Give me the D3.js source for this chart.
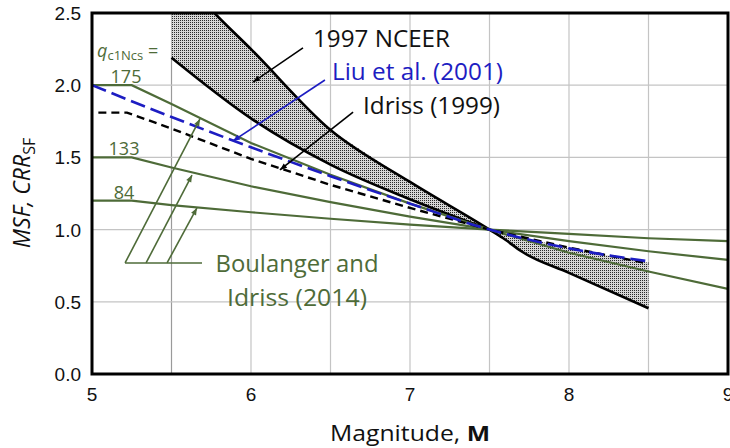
<!DOCTYPE html>
<html><head><meta charset="utf-8">
<script src="https://cdn.jsdelivr.net/npm/d3@7"></script>
<style>body{margin:0;background:#fff;} svg{display:block;}</style>
</head><body>
<svg id="chart" width="730" height="448"></svg>
<script>
// ---- data ----
const xTicks = [5, 6, 7, 8, 9];
const yTicks = [0.0, 0.5, 1.0, 1.5, 2.0, 2.5];
const xGrid = [5.5, 6, 6.5, 7, 7.5, 8, 8.5];
const yGrid = [0.5, 1.0, 1.5, 2.0];

// 1997 NCEER band: steep curve and shallow curve
const nceerSteep = [[5.5,2.83],[5.77,2.5],[6.0,2.25],[6.5,1.69],[7.0,1.33],[7.5,1.0],[7.6,0.93],[7.7,0.85],[8.0,0.70],[8.5,0.455]];
const nceerShallowLeft = [[5.5,2.19],[6.0,1.77],[6.5,1.45],[7.0,1.21],[7.5,1.0]];
const nceerShallowRight = [[7.5,1.0],[8.0,0.87],[8.5,0.77]];

const liu2001 = [[5.0,2.0],[5.5,1.78],[6.0,1.57],[6.5,1.37],[7.0,1.18],[7.5,1.0],[8.0,0.87],[8.5,0.78]];
const idriss1999 = [[5.04,1.81],[5.22,1.81],[5.5,1.70],[6.0,1.49],[6.5,1.31],[7.0,1.15],[7.5,1.0],[8.0,0.875],[8.5,0.765]];

const bi2014Labels = ["175", "133", "84"];
const bi175 = [[5.0,2.0],[5.25,2.0],[5.5,1.87],[6.0,1.60],[6.5,1.38],[7.0,1.18],[7.5,1.0],[8.0,0.84],[8.5,0.71],[9.0,0.59]];
const bi133 = [[5.0,1.5],[5.25,1.5],[5.5,1.43],[6.0,1.30],[6.5,1.19],[7.0,1.09],[7.5,1.0],[8.0,0.92],[8.5,0.85],[9.0,0.79]];
const bi84  = [[5.0,1.2],[5.25,1.2],[5.5,1.17],[6.0,1.12],[6.5,1.075],[7.0,1.035],[7.5,1.0],[8.0,0.97],[8.5,0.94],[9.0,0.92]];

// annotation anchors (data units): [from, to]
const arrNceer = [[6.327,2.258],[6.013,2.022]];
const arrLiu = [[6.465,2.036],[5.887,1.614]];
const arrIdriss = [[6.642,1.814],[6.182,1.413]];
const biArrowBases = [[5.208,0.769],[5.340,0.769],[5.472,0.769]];
const biArrowTips = [[5.679,1.766],[5.629,1.378],[5.660,1.150]];
const biBar = [[5.208,0.769],[5.692,0.769]];

// ---- layout ----
const L = 92, R = 728, T = 13, B = 374;
const svg = d3.select("#chart");
const x = d3.scaleLinear().domain([5, 9]).range([L, R]);
const y = d3.scaleLinear().domain([0, 2.5]).range([B, T]);

const green = "#4e6b38", blue = "#1d1dc2";
const labelFont = "'Open Sans', sans-serif";
const tickFont = "'Liberation Sans', Arial, sans-serif";

const defs = svg.append("defs");
defs.append("clipPath").attr("id","clip").append("rect")
  .attr("x", L).attr("y", T).attr("width", R-L).attr("height", B-T);
const pat = defs.append("pattern").attr("id","dots").attr("patternUnits","userSpaceOnUse")
  .attr("width",2).attr("height",2);
pat.append("rect").attr("width",2).attr("height",2).attr("fill","#d6d6d6");
pat.append("rect").attr("width",1).attr("height",1).attr("fill","#2a2a2a");
function marker(id, color){
  defs.append("marker").attr("id",id).attr("viewBox","0 -5 10 10")
    .attr("refX",10).attr("refY",0).attr("markerWidth",9).attr("markerHeight",7)
    .attr("markerUnits","userSpaceOnUse").attr("orient","auto")
    .append("path").attr("d","M0,-4L10,0L0,4Z").attr("fill",color);
}
marker("ab","#000"); marker("abb",blue); marker("abg",green);

// grid
svg.append("g").selectAll("line").data(xGrid).join("line")
  .attr("x1", d=>x(d)).attr("x2", d=>x(d)).attr("y1", T).attr("y2", B)
  .attr("stroke", d=> d===5.5 ? "#9a9a9a" : "#c4c4c4").attr("stroke-width",1.2);
svg.append("g").selectAll("line").data(yGrid).join("line")
  .attr("x1", L).attr("x2", R).attr("y1", d=>y(d)).attr("y2", d=>y(d))
  .attr("stroke", "#c4c4c4").attr("stroke-width",1.2);

const plot = svg.append("g").attr("clip-path","url(#clip)");
const lineM = d3.line().x(d=>x(d[0])).y(d=>y(d[1])).curve(d3.curveMonotoneX);
const lineL = d3.line().x(d=>x(d[0])).y(d=>y(d[1]));

// band
const shallowAll = nceerShallowLeft.concat(nceerShallowRight.slice(1));
const bandPts = nceerSteep.concat(shallowAll.slice().reverse());
plot.append("path").attr("d", lineL(bandPts) + "Z").attr("fill","url(#dots)").attr("stroke","none");
plot.append("path").attr("d", lineM(nceerSteep)).attr("fill","none").attr("stroke","#000").attr("stroke-width",2.6);
plot.append("path").attr("d", lineM(nceerShallowLeft)).attr("fill","none").attr("stroke","#000").attr("stroke-width",2.6);

// Boulanger & Idriss 2014
[bi175, bi133, bi84].forEach(s=>{
  plot.append("path").attr("d", lineL(s)).attr("fill","none").attr("stroke",green).attr("stroke-width",2.2);
});
// Idriss 1999
plot.append("path").attr("d", lineL(idriss1999)).attr("fill","none").attr("stroke","#000")
  .attr("stroke-width",2.4).attr("stroke-dasharray","8,5");
// Liu 2001
plot.append("path").attr("d", lineM(liu2001)).attr("fill","none").attr("stroke",blue)
  .attr("stroke-width",2.6).attr("stroke-dasharray","15,6");

// frame
svg.append("rect").attr("x",L).attr("y",T).attr("width",R-L).attr("height",B-T)
  .attr("fill","none").attr("stroke","#000").attr("stroke-width",3);

// tick labels
svg.append("g").selectAll("text").data(xTicks).join("text")
  .attr("x", d=>x(d)).attr("y", 401).attr("text-anchor","middle")
  .attr("font-family", tickFont).attr("font-size",19).attr("fill","#111").text(d=>d);
svg.append("g").selectAll("text").data(yTicks).join("text")
  .attr("x", 81).attr("y", d=>y(d)+7).attr("text-anchor","end")
  .attr("font-family", tickFont).attr("font-size",19).attr("fill","#111").text(d=>d.toFixed(1));

// axis titles
const xt = svg.append("text").attr("x", 410).attr("y", 441).attr("text-anchor","middle")
  .attr("font-family", labelFont).attr("font-size",22).attr("fill","#111")
  .attr("textLength",160).attr("lengthAdjust","spacingAndGlyphs");
xt.append("tspan").text("Magnitude, ");
xt.append("tspan").attr("font-weight","bold").text("M");
const yt = svg.append("text").attr("transform","translate(30,193) rotate(-90)")
  .attr("text-anchor","middle").attr("font-family", labelFont).attr("font-size",23).attr("fill","#111");
yt.append("tspan").attr("font-style","italic").text("MSF, CRR");
yt.append("tspan").attr("font-size",16).attr("dy",5).text("SF");

// annotations
function arrow(pts, color, mk){
  svg.append("line").attr("x1",x(pts[0][0])).attr("y1",y(pts[0][1]))
    .attr("x2",x(pts[1][0])).attr("y2",y(pts[1][1]))
    .attr("stroke",color).attr("stroke-width",1.6).attr("marker-end","url(#"+mk+")");
}
arrow(arrNceer,"#000","ab");
arrow(arrLiu,blue,"abb");
arrow(arrIdriss,"#000","ab");
biArrowBases.forEach((b,i)=>arrow([b, biArrowTips[i]], green, "abg"));
svg.append("line").attr("x1",x(biBar[0][0])).attr("y1",y(biBar[0][1]))
  .attr("x2",x(biBar[1][0])).attr("y2",y(biBar[1][1])).attr("stroke",green).attr("stroke-width",1.6);

function label(txt, px, py, color, anchor, len){
  const t = svg.append("text").attr("x",px).attr("y",py).attr("text-anchor",anchor||"start")
    .attr("font-family",labelFont).attr("font-size",23).attr("fill",color).text(txt);
  if (len) t.attr("textLength",len).attr("lengthAdjust","spacingAndGlyphs");
  return t;
}
label("1997 NCEER", 313, 47, "#111", "start", 137);
label("Liu et al. (2001)", 332, 80, blue, "start", 171);
label("Idriss (1999)", 363, 114, "#111", "start", 137);
label("Boulanger and", 297, 272, green, "middle", 163);
label("Idriss (2014)", 297, 306, green, "middle", 140);

// q labels
const q = svg.append("text").attr("x",97).attr("y",57).attr("font-family",labelFont)
  .attr("font-size",18).attr("fill",green);
q.append("tspan").attr("font-style","italic").text("q");
q.append("tspan").attr("font-size",13).attr("dy",3).text("c1Ncs");
q.append("tspan").attr("dy",-3).text(" =");
const qy = [83, 155, 199];
const qx = [126, 124, 124];
svg.append("g").selectAll("text").data(bi2014Labels).join("text")
  .attr("x",(d,i)=>qx[i]).attr("y",(d,i)=>qy[i]).attr("text-anchor","middle")
  .attr("font-family",labelFont).attr("font-size",18).attr("fill",green).text(d=>d);
</script>
</body></html>
